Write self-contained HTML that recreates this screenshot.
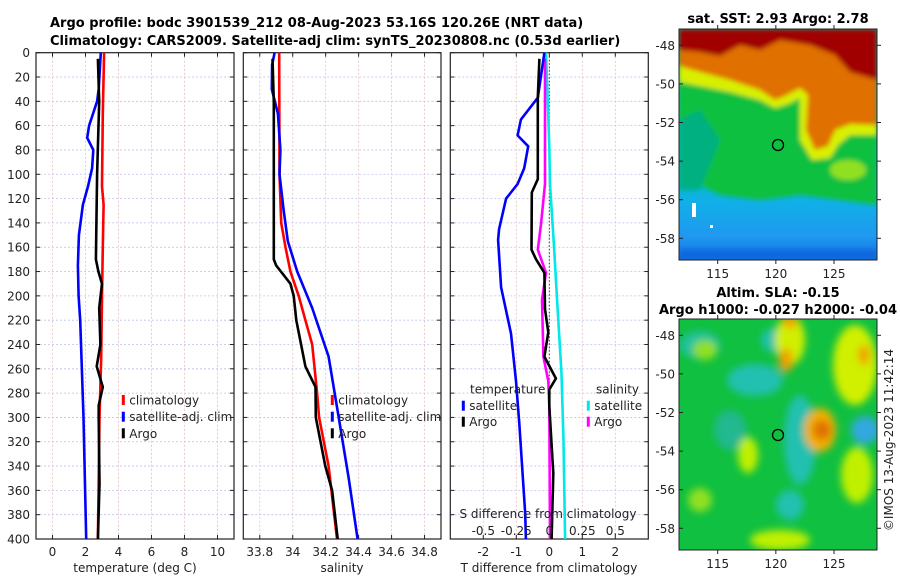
<!DOCTYPE html>
<html><head><meta charset="utf-8">
<style>
body{margin:0;background:#fff;}
svg{display:block;font-family:"DejaVu Sans","Liberation Sans",sans-serif;}
text{fill:#222;}
.t{font-size:12px;}
.b{font-weight:bold;font-size:13px;fill:#000;}
</style></head>
<body>
<svg id="chart" width="900" height="580" viewBox="0 0 900 580">
<defs>
<filter id="bl" x="-10%" y="-10%" width="120%" height="120%"><feGaussianBlur stdDeviation="2.5"/></filter>
<filter id="bl2" x="-30%" y="-30%" width="160%" height="160%"><feGaussianBlur stdDeviation="4"/></filter>
<clipPath id="c1"><rect x="679" y="29" width="198" height="231"/></clipPath>
<clipPath id="c2"><rect x="679" y="319" width="198" height="231"/></clipPath>
<linearGradient id="sstbg" x1="0" y1="0" x2="0" y2="1">
<stop offset="0" stop-color="#00c090"/><stop offset="0.55" stop-color="#00c0b0"/><stop offset="0.75" stop-color="#10b0e8"/><stop offset="0.9" stop-color="#2098f0"/><stop offset="1" stop-color="#1070e0"/></linearGradient>
</defs>
<text class="b" x="50" y="27">Argo profile: bodc 3901539_212 08-Aug-2023 53.16S 120.26E (NRT data)</text>
<text class="b" x="50" y="45">Climatology: CARS2009. Satellite-adj clim: synTS_20230808.nc (0.53d earlier)</text>
<g id="panels"></g>

<!-- SST map -->
<g>
<text class="b" x="778" y="23" text-anchor="middle">sat. SST: 2.93 Argo: 2.78</text>
<g clip-path="url(#c1)">
<rect x="679" y="29" width="198" height="231" fill="url(#sstbg)"/>
<g filter="url(#bl)">
<polygon fill="#10c040" points="679,78 720,85 760,95 800,95 877,125 877,205 840,200 800,195 760,200 720,195 700,185 679,175"/>
<polygon fill="#00b080" points="679,120 700,110 720,140 700,190 679,190"/>
<polygon fill="#d8f000" points="679,29 877,29 877,135 850,135 838,145 830,158 812,160 800,140 800,98 788,104 775,108 760,100 730,92 700,86 679,82"/>
<polygon fill="#e07000" points="679,29 877,29 877,125 850,124 835,130 828,146 815,150 806,130 808,95 800,88 785,96 775,100 760,90 730,80 700,72 679,66"/>
<polygon fill="#a00000" points="679,29 877,29 877,80 850,72 835,55 810,45 780,40 760,50 740,45 720,56 700,52 679,50"/>
<ellipse cx="848" cy="170" rx="18" ry="10" fill="#90e020"/>
<rect x="679" y="250" width="198" height="10" fill="#1068e0"/>
</g>
<rect x="692" y="203" width="4" height="14" fill="#fff"/>
<rect x="710" y="225" width="3" height="3" fill="#fff"/>
</g>
<rect x="679" y="29" width="198" height="231" fill="none" stroke="#222" stroke-width="1"/>
<circle cx="778" cy="145" r="5.5" fill="none" stroke="#000" stroke-width="1.3"/>
</g>

<!-- SLA map -->
<g>
<text class="b" x="778" y="297" text-anchor="middle">Altim. SLA: -0.15</text>
<text class="b" x="778" y="314" text-anchor="middle">Argo h1000: -0.027 h2000: -0.04</text>
<g clip-path="url(#c2)">
<rect x="679" y="319" width="198" height="231" fill="#10c040"/>
<g filter="url(#bl2)">
<ellipse cx="755" cy="380" rx="28" ry="16" fill="#20c0b0"/>
<ellipse cx="700" cy="345" rx="20" ry="14" fill="#20c0a0"/>
<ellipse cx="800" cy="440" rx="16" ry="45" fill="#20c0b0"/>
<ellipse cx="775" cy="340" rx="14" ry="12" fill="#20c0b0"/>
<ellipse cx="865" cy="430" rx="14" ry="14" fill="#30a8e0"/>
<ellipse cx="790" cy="505" rx="14" ry="15" fill="#20c0b0"/>
<ellipse cx="730" cy="430" rx="16" ry="20" fill="#20b890"/>
<ellipse cx="790" cy="340" rx="15" ry="25" fill="#d0f000"/>
<ellipse cx="855" cy="365" rx="22" ry="40" fill="#d0f000"/>
<ellipse cx="705" cy="350" rx="12" ry="10" fill="#90e020"/>
<ellipse cx="748" cy="455" rx="10" ry="18" fill="#c0f000"/>
<ellipse cx="857" cy="475" rx="16" ry="28" fill="#c0f000"/>
<ellipse cx="780" cy="540" rx="30" ry="10" fill="#c0f000"/>
<ellipse cx="700" cy="500" rx="12" ry="12" fill="#90e020"/>
<ellipse cx="820" cy="430" rx="16" ry="22" fill="#f0b000"/>
<ellipse cx="822" cy="430" rx="9" ry="10" fill="#e07000"/>
<ellipse cx="786" cy="360" rx="7" ry="12" fill="#f0a000"/>
<ellipse cx="864" cy="355" rx="6" ry="10" fill="#f0a000"/>
<ellipse cx="790" cy="322" rx="8" ry="6" fill="#f0a000"/>
</g>
</g>
<rect x="679" y="319" width="198" height="231" fill="none" stroke="#222" stroke-width="1"/>
<circle cx="778" cy="435" r="5.5" fill="#10c040" stroke="#000" stroke-width="1.3"/>
<text class="t" transform="translate(893,440) rotate(-90)" text-anchor="middle">©IMOS 13-Aug-2023 11:42:14</text>
</g>
<g id="mapaxes"></g>
</svg>
<script>
// ---------- data ----------
const depthTicks = [0,20,40,60,80,100,120,140,160,180,200,220,240,260,280,300,320,340,360,380,400];
const tempTicks = [0,2,4,6,8,10];
const salTicks = [33.8,34,34.2,34.4,34.6,34.8];
const salTickLabels = ["33.8","34","34.2","34.4","34.6","34.8"];
const tdiffTicks = [-2,-1,0,1,2];
const sdiffTicks = [-0.5,-0.25,0,0.25,0.5];
const sdiffTickLabels = ["-0.5","-0.25","0","0.25","0.5"];

const climTDepth = [0,50,110,125,160,200,250,300,350,400];
const climT = [3.13,3.05,3.0,3.1,3.05,3.0,2.95,2.85,2.8,2.75];
const satTDepth = [0,30,40,60,70,80,95,110,125,150,175,200,220,300,400];
const satT = [2.93,2.8,2.7,2.22,2.1,2.47,2.4,2.15,1.84,1.6,1.54,1.58,1.68,1.88,2.04];
const argoTDepth = [5,40,100,170,180,190,210,240,258,275,290,300,355,400];
const argoT = [2.75,2.83,2.7,2.63,2.78,3.0,2.83,2.9,2.68,3.05,2.8,2.8,2.85,2.75];

const climSDepth = [0,100,140,160,180,200,220,240,280,300,340,400];
const climS = [33.918,33.92,33.93,33.956,33.986,34.036,34.077,34.118,34.148,34.16,34.218,34.269];
const satSDepth = [0,10,30,50,80,100,130,155,180,210,250,300,350,400];
const satS = [33.89,33.875,33.873,33.91,33.925,33.92,33.945,33.97,34.027,34.118,34.218,34.279,34.34,34.394];
const argoSDepth = [5,40,170,175,190,200,220,258,275,300,340,360,400];
const argoS = [33.877,33.885,33.885,33.9,33.986,34.006,34.022,34.077,34.138,34.14,34.198,34.239,34.273];

const satTdDepth = [0,37,55,68,77,95,108,120,145,154,193,231,270,305,379,400];
const satTd = [-0.15,-0.35,-0.86,-0.96,-0.64,-0.76,-0.96,-1.31,-1.52,-1.55,-1.46,-1.16,-1.01,-0.91,-0.73,-0.71];
const argoTdDepth = [5,37,104,115,162,170,181,211,230,250,268,277,291,346,400];
const argoTd = [-0.3,-0.35,-0.35,-0.53,-0.54,-0.4,-0.15,-0.13,-0.03,-0.15,0.2,0,0,0.12,0.07];
const satSdDepth = [0,77,108,154,209,264,319,400];
const satSd = [-0.025,0,0.005,0.0325,0.0625,0.0925,0.1075,0.12];
const argoSdDepth = [5,108,141,162,181,203,250,270,291,400];
const argoSd = [-0.0325,-0.0325,-0.0625,-0.0875,-0.025,-0.055,-0.045,-0.0075,0,0.005];

const lonTicks = [115,120,125];
const latTicks = [-48,-50,-52,-54,-56,-58];

// ---------- helpers ----------
const NS="http://www.w3.org/2000/svg";
const root=document.getElementById('panels');
function mk(tag,attrs,parent){const e=document.createElementNS(NS,tag);for(const k in attrs)e.setAttribute(k,attrs[k]);(parent||root).appendChild(e);return e;}
const Y0=52.7, Y1=539;
const yD = d => Y0 + (d/400)*(Y1-Y0);
function lin(d0,d1,r0,r1){return v=>r0+(v-d0)/(d1-d0)*(r1-r0);}
const xT = lin(-1,11,36,234);
const xS = lin(33.7,34.9,243.3,441);
const xTd = lin(-3,3,450.3,648.3);
const xSd = v => xTd(v*4);

function frame(x0,x1,xs,xticks,xlabels,name){
  const g=mk('g',{});
  
  
  depthTicks.forEach(d=>{mk('line',{x1:x0,x2:x1,y1:yD(d),y2:yD(d),stroke:'#b8c4e8','stroke-width':0.8,'stroke-dasharray':'2,2'},g);});
  xticks.forEach(t=>{mk('line',{x1:xs(t),x2:xs(t),y1:Y0,y2:Y1,stroke:'#e4c0c0','stroke-width':0.8,'stroke-dasharray':'2,2'},g);});
  depthTicks.forEach(d=>{mk('line',{x1:x0,x2:x0+4,y1:yD(d),y2:yD(d),stroke:'#222'},g);mk('line',{x1:x1,x2:x1-4,y1:yD(d),y2:yD(d),stroke:'#222'},g);});
  xticks.forEach((t,i)=>{mk('line',{x1:xs(t),x2:xs(t),y1:Y1,y2:Y1-4,stroke:'#222'},g);mk('line',{x1:xs(t),x2:xs(t),y1:Y0,y2:Y0+4,stroke:'#222'},g);
    const tx=mk('text',{x:xs(t),y:556,'text-anchor':'middle','class':'t'},g);tx.textContent=xlabels[i];
    
    });
  mk('rect',{x:x0,y:Y0,width:x1-x0,height:Y1-Y0,fill:'none',stroke:'#222','stroke-width':1.2},g);
  return g;
}
function series(depths,vals,xs,color,name,w){
  const pts=depths.map((d,i)=>xs(vals[i]).toFixed(1)+','+yD(d).toFixed(1)).join(' ');
  const p=mk('polyline',{points:pts,fill:'none',stroke:color,'stroke-width':w||2.6,'stroke-linejoin':'round'});
  
  
}
function legend(x,y,color,label,name){
  const g=mk('g',{});
  
  
  mk('rect',{x:x-1.5,y:y-5,width:3,height:10,fill:color},g);
  const t=mk('text',{x:x+6,y:y+4.5,'class':'t'},g);t.textContent=label;
}
function txt(x,y,s,anchor,name){const t=mk('text',{x:x,y:y,'text-anchor':anchor||'middle','class':'t'});t.textContent=s;
  
  return t;}

// y labels
depthTicks.forEach(d=>{const t=txt(30,yD(d)+4.5,String(d),'end','y-tick-label');});

// Panel 1: temperature
frame(36,234,xT,tempTicks,tempTicks.map(String),'temperature-panel');
series(climTDepth,climT,xT,'#ff0000','climatology-temp-line');
series(satTDepth,satT,xT,'#0000ff','satellite-temp-line');
series(argoTDepth,argoT,xT,'#000000','argo-temp-line');
txt(135,572,'temperature (deg C)','middle','temperature-axis-title');
legend(123.3,400,'#ff0000','climatology','legend-climatology');
legend(123.3,416.7,'#0000ff','satellite-adj. clim','legend-satellite-adj');
legend(123.3,433.3,'#000000','Argo','legend-argo');

// Panel 2: salinity
frame(243.3,441,xS,salTicks,salTickLabels,'salinity-panel');
series(climSDepth,climS,xS,'#ff0000','climatology-sal-line');
series(satSDepth,satS,xS,'#0000ff','satellite-sal-line');
series(argoSDepth,argoS,xS,'#000000','argo-sal-line');
txt(342,572,'salinity','middle','salinity-axis-title');
legend(332.3,400,'#ff0000','climatology','legend-climatology-2');
legend(332.3,416.7,'#0000ff','satellite-adj. clim','legend-satellite-adj-2');
legend(332.3,433.3,'#000000','Argo','legend-argo-2');

// Panel 3: differences
frame(450.3,648.3,xTd,tdiffTicks,tdiffTicks.map(String),'difference-panel');
const zl=mk('line',{x1:xTd(0),x2:xTd(0),y1:Y0,y2:Y1,stroke:'#333','stroke-width':1,'stroke-dasharray':'1.5,2'});


series(satSdDepth,satSd,xSd,'#00e8e8','satellite-sal-diff-line');
series(argoSdDepth,argoSd,xSd,'#ff00ff','argo-sal-diff-line');
series(satTdDepth,satTd,xTd,'#0000ff','satellite-temp-diff-line');
series(argoTdDepth,argoTd,xTd,'#000000','argo-temp-diff-line');
txt(549,572,'T difference from climatology','middle','t-diff-axis-title');
txt(548,518,'S difference from climatology','middle','s-diff-axis-title');
sdiffTicks.forEach((s,i)=>txt(xSd(s),535,sdiffTickLabels[i],'middle','s-diff-tick-label'));
txt(470,393.5,'temperature','start','legend-temperature-heading');
legend(463.3,405.7,'#0000ff','satellite','legend-temp-satellite');
legend(463.3,421.7,'#000000','Argo','legend-temp-argo');
txt(596,393.5,'salinity','start','legend-salinity-heading');
legend(588.3,405.7,'#00e8e8','satellite','legend-sal-satellite');
legend(588.3,421.7,'#ff00ff','Argo','legend-sal-argo');

// Map axes
const ma=document.getElementById('mapaxes');
const xLon = lin(115,125,717.7,834);
[[29,260,45.3,238.3],[319,550,335.3,528.3]].forEach(([top,bot,l48,l58],mi)=>{
  const yLat=lin(-48,-58,l48,l58);
  latTicks.forEach(v=>{
    mk('line',{x1:679,x2:683,y1:yLat(v),y2:yLat(v),stroke:'#222'},ma);
    mk('line',{x1:877,x2:881,y1:yLat(v),y2:yLat(v),stroke:'#222'},ma);
    const t=mk('text',{x:675,y:yLat(v)+4.5,'text-anchor':'end','class':'t'},ma);t.textContent=String(v);
    
    
  });
  lonTicks.forEach(v=>{
    mk('line',{x1:xLon(v),x2:xLon(v),y1:bot,y2:bot+4,stroke:'#222'},ma);
    mk('line',{x1:xLon(v),x2:xLon(v),y1:top,y2:top-4,stroke:'#222'},ma);
    const t=mk('text',{x:xLon(v),y:bot+18,'text-anchor':'middle','class':'t'},ma);t.textContent=String(v);
    
    
  });
});
</script>
</body></html>
